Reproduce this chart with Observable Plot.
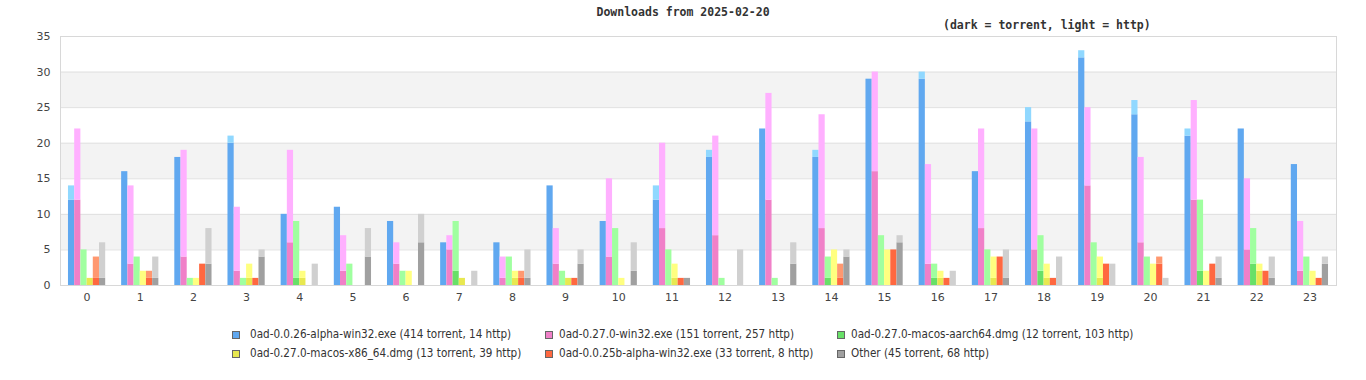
<!DOCTYPE html>
<html>
<head>
<meta charset="utf-8">
<script src="https://cdn.jsdelivr.net/npm/d3@7"></script>
<script src="https://cdn.jsdelivr.net/npm/@observablehq/plot@0.6"></script>
<style>
  html, body { margin: 0; padding: 0; background: #fff; }
  #wrap { position: relative; width: 1366px; height: 380px; overflow: hidden; }
  #chart { position: absolute; left: 0; top: 0; }
  .title { position: absolute; font-family: "DejaVu Sans Mono", monospace; font-weight: bold; font-size: 11.5px; color: #333; white-space: pre; }
  .leg { position: absolute; font-family: "DejaVu Sans Condensed", "DejaVu Sans", sans-serif; font-stretch: condensed; font-size: 11.6px; color: #333; white-space: pre; line-height: 13px; }
  .sw { position: absolute; width: 6px; height: 6px; border: 1px solid #666; }
</style>
</head>
<body>
<div id="wrap">
  <div id="chart"></div>
</div>
<script>
const titleText = "Downloads from 2025-02-20";
const subtitleText = "(dark = torrent, light = http)";

const hours = [0,1,2,3,4,5,6,7,8,9,10,11,12,13,14,15,16,17,18,19,20,21,22,23];
const yTicks = [0,5,10,15,20,25,30,35];
const bands = [[5,10],[15,20],[25,30]];

const seriesNames = [
  "0ad-0.0.26-alpha-win32.exe (414 torrent, 14 http)",
  "0ad-0.27.0-win32.exe (151 torrent, 257 http)",
  "0ad-0.27.0-macos-aarch64.dmg (12 torrent, 103 http)",
  "0ad-0.27.0-macos-x86_64.dmg (13 torrent, 39 http)",
  "0ad-0.0.25b-alpha-win32.exe (33 torrent, 8 http)",
  "Other (45 torrent, 68 http)"
];
const darkColors  = ["#60a8f0", "#f080c8", "#68e068", "#e8e850", "#ff6840", "#a0a0a0"];
const lightColors = ["#90d8ff", "#ffb0ff", "#a0ffa0", "#ffff80", "#ff9870", "#d0d0d0"];

// per-hour counts, hours 0..23
const torrentS1 = [12,16,18,20,10,11,9,6,6,14,9,12,18,22,18,29,29,16,23,32,24,21,22,17];
const httpS1    = [2,0,0,1,0,0,0,0,0,0,0,2,1,0,1,0,1,0,2,1,2,1,0,0];
const torrentS2 = [12,3,4,2,6,2,3,5,1,3,4,8,7,12,8,16,3,8,5,14,6,12,5,2];
const httpS2    = [10,11,15,9,13,5,3,2,3,5,11,12,14,15,16,14,14,14,17,11,12,14,10,7];
const torrentS3 = [0,0,0,0,1,0,0,2,0,0,0,0,0,0,1,0,1,0,2,0,0,2,3,0];
const httpS3    = [5,4,1,1,8,3,2,7,4,2,8,5,1,1,3,7,2,5,5,6,4,10,5,4];
const torrentS4 = [1,0,0,1,1,0,0,1,1,1,0,1,0,0,0,0,1,1,1,1,0,0,2,0];
const httpS4    = [0,2,1,2,1,0,2,0,1,0,1,2,0,0,5,5,1,3,2,3,3,2,1,2];
const torrentS5 = [1,1,3,1,0,0,0,0,1,1,0,1,0,0,1,5,1,4,1,3,3,3,2,1];
const httpS5    = [3,1,0,0,0,0,0,0,1,0,0,0,0,0,2,0,0,0,0,0,1,0,0,0];
const torrentS6 = [1,1,3,4,0,4,6,0,1,3,2,1,0,3,4,6,0,1,0,0,0,1,1,3];
const httpS6    = [5,3,5,1,3,4,4,2,4,2,4,0,5,3,1,1,2,4,4,3,1,3,3,1];

const torrent = [torrentS1, torrentS2, torrentS3, torrentS4, torrentS5, torrentS6];
const http = [httpS1, httpS2, httpS3, httpS4, httpS5, httpS6];

// build bar table (group of 6 bars per hour, within 70% of each hour slot)
const groupWidth = 0.7;
const barW = groupWidth / seriesNames.length;
const rows = [];
hours.forEach((h, hi) => {
  seriesNames.forEach((s, si) => {
    const t = torrent[si][hi], v = http[si][hi];
    const x1 = h - groupWidth / 2 + si * barW;
    if (t > 0) rows.push({x1, x2: x1 + barW, y1: 0, y2: t, fill: darkColors[si]});
    if (v > 0) rows.push({x1, x2: x1 + barW, y1: t, y2: t + v, fill: lightColors[si]});
  });
});

const plot = Plot.plot({
  width: 1366,
  height: 305,
  marginLeft: 60,
  marginRight: 30,
  marginTop: 36,
  marginBottom: 20,
  style: {fontFamily: "'DejaVu Sans', sans-serif", fontSize: "11px", color: "#444", background: "transparent"},
  x: {type: "linear", domain: [-0.5, 23.5], ticks: hours, tickFormat: d => String(d), tickSize: 0, tickPadding: 8, label: null},
  y: {domain: [0, 35], ticks: yTicks, tickSize: 0, tickPadding: 10, label: null},
  marks: [
    Plot.rect(bands, {y1: d => d[0], y2: d => d[1], fill: "#f3f3f3"}),
    Plot.ruleY(yTicks, {stroke: "#e0e0e0", strokeWidth: 1}),
    Plot.rect(rows, {x1: "x1", x2: "x2", y1: "y1", y2: "y2", fill: "fill"}),
    Plot.frame({stroke: "#d8d8d8", strokeWidth: 1})
  ]
});
document.getElementById("chart").appendChild(plot);

const wrap = document.getElementById("wrap");
function addDiv(cls, text, left, top) {
  const d = document.createElement("div");
  d.className = cls;
  d.textContent = text;
  d.style.left = left + "px";
  d.style.top = top + "px";
  wrap.appendChild(d);
  return d;
}
const t1 = addDiv("title", titleText, 0, 5);
t1.style.left = (683 - t1.offsetWidth / 2) + "px";
addDiv("title", subtitleText, 943, 18);

const swX = [232, 545, 837];
const txtX = [250, 559, 851];
const legY = [328, 347];
seriesNames.forEach((name, i) => {
  const col = i % 3, row = Math.floor(i / 3);
  const sw = document.createElement("div");
  sw.className = "sw";
  sw.style.background = darkColors[i];
  sw.style.left = swX[col] + "px";
  sw.style.top = (legY[row] + 3) + "px";
  wrap.appendChild(sw);
  addDiv("leg", name, txtX[col], legY[row]);
});
</script>
</body>
</html>
